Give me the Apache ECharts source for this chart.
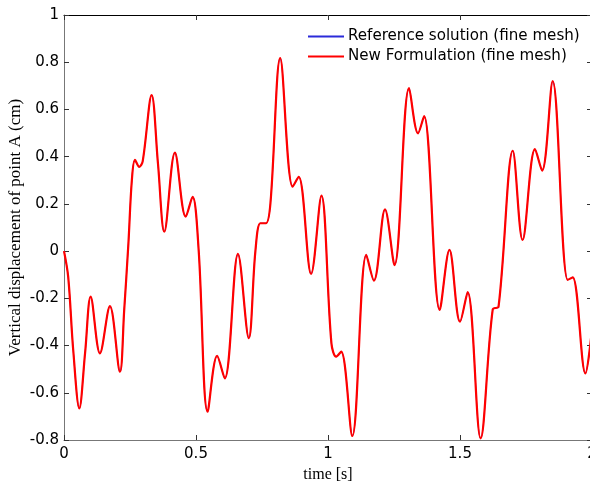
<!DOCTYPE html>
<html><head><meta charset="utf-8">
<script src="https://cdn.jsdelivr.net/npm/echarts@6/dist/echarts.min.js"></script>
<style>html,body{margin:0;padding:0;background:#fff}#c{width:590px;height:483px}</style>
</head><body><div id="c"></div>
<script>
const timeValues = [0.000,0.016,0.035,0.058,0.080,0.101,0.136,0.174,0.212,0.228,0.244,0.257,0.269,0.285,0.298,0.332,0.356,0.380,0.420,0.461,0.487,0.510,0.544,0.580,0.609,0.659,0.700,0.725,0.744,0.765,0.782,0.819,0.866,0.889,0.936,0.975,1.013,1.031,1.050,1.092,1.145,1.174,1.216,1.252,1.307,1.341,1.364,1.423,1.460,1.500,1.529,1.578,1.624,1.646,1.700,1.737,1.784,1.811,1.851,1.908,1.927,1.975,2.000];
const newFormulation = [0.000,-0.11,-0.42,-0.666,-0.43,-0.193,-0.433,-0.233,-0.511,-0.25,0.033,0.30,0.386,0.357,0.38,0.661,0.37,0.082,0.417,0.146,0.230,0.005,-0.680,-0.444,-0.539,-0.012,-0.369,0.0,0.118,0.118,0.203,0.817,0.273,0.315,-0.097,0.235,-0.391,-0.447,-0.426,-0.783,-0.016,-0.125,0.177,-0.059,0.690,0.499,0.572,-0.249,0.005,-0.299,-0.174,-0.793,-0.247,-0.235,0.425,0.047,0.432,0.341,0.720,-0.122,-0.111,-0.518,-0.33];
const referenceSolution = newFormulation.slice();
const xTicks = [0, 0.5, 1, 1.5, 2];
const yTicks = [-0.8,-0.6,-0.4,-0.2,0,0.2,0.4,0.6,0.8,1];
const seriesNames = ['Reference solution (fine mesh)', 'New Formulation (fine mesh)'];

const pair = (ys) => timeValues.map((t,i)=>[t, ys[i]]);
const chart = echarts.init(document.getElementById('c'), null, {renderer:'canvas'});
const labelFont = {fontFamily:'DejaVu Sans, sans-serif', fontSize:15, color:'#000'};
const serif = 'Liberation Serif, Times New Roman, serif';
chart.setOption({
  animation:false,
  grid:{left:64, top:15, width:528, height:425, containLabel:false, outerBoundsMode:'none'},
  legend:{
    orient:'vertical', left:303, top:24, itemWidth:36, itemHeight:2, itemGap:5,
    textStyle:{fontFamily:'DejaVu Sans, sans-serif', fontSize:15.1, color:'#000', padding:[0,0,0,-1]},
    data:[{name:seriesNames[0], icon:'rect', itemStyle:{color:'#2b2bd9'}},{name:seriesNames[1], icon:'rect', itemStyle:{color:'#ff0000'}}]
  },
  xAxis:[{
    type:'value', min:0, max:2, interval:0.5,
    name:'time [s]', nameLocation:'middle', nameGap:27, nameMoveOverlap:false, nameTextStyle:{fontFamily:serif, fontSize:16, color:'#000'},
    axisLine:{onZero:false, lineStyle:{color:'#777', width:1}},
    axisTick:{inside:true, length:5, lineStyle:{color:'#333'}},
    axisLabel:{...labelFont, margin:7, formatter:v=>String(v)},
    splitLine:{show:false}
  },{
    type:'value', min:0, max:2, interval:0.5, position:'top',
    axisLine:{onZero:false, lineStyle:{color:'#000'}},
    axisTick:{inside:true, length:5, lineStyle:{color:'#333'}},
    axisLabel:{show:false}, splitLine:{show:false}
  }],
  yAxis:[{
    type:'value', min:-0.8, max:1, interval:0.2,
    name:'Vertical displacement of point A (cm)', nameLocation:'middle', nameGap:40, nameMoveOverlap:false, nameTextStyle:{fontFamily:serif, fontSize:17, color:'#000'},
    axisLine:{onZero:false, lineStyle:{color:'#777'}},
    axisTick:{inside:true, length:5, lineStyle:{color:'#333'}},
    axisLabel:{...labelFont, margin:5, formatter:v=>{const r=Math.round(v*10)/10; return r===0?'0':String(r);}},
    splitLine:{show:false}
  },{
    type:'value', min:-0.8, max:1, interval:0.2, position:'right',
    axisLine:{onZero:false, lineStyle:{color:'#000'}},
    axisTick:{inside:true, length:5, lineStyle:{color:'#333'}},
    axisLabel:{show:false}, splitLine:{show:false}
  }],
  series:[
    {name:seriesNames[0], type:'line', data:pair(referenceSolution), showSymbol:false, symbol:'none', smooth:0.35, lineStyle:{color:'#2b2bd9', width:1}, itemStyle:{color:'#2b2bd9'}, z:2},
    {name:seriesNames[1], type:'line', data:pair(newFormulation), showSymbol:false, symbol:'none', smooth:0.35, lineStyle:{color:'#ff0000', width:2.2}, itemStyle:{color:'#ff0000'}, z:3}
  ]
});
</script></body></html>
